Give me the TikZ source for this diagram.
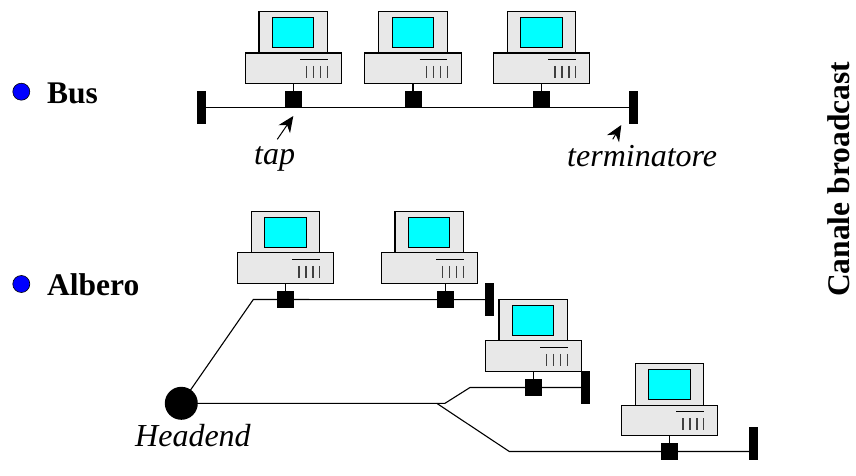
\documentclass[tikz,border=0pt]{standalone}
\usepackage{fontspec}
\setmainfont{Liberation Serif}
\usetikzlibrary{calc,arrows.meta}
\definecolor{pcgrey}{HTML}{E8E8E8}
\definecolor{pcscreen}{HTML}{00FFFF}
\definecolor{dotblue}{HTML}{0000FF}
\tikzset{
	wire/.style={line width=1.1pt,line join=miter},
	pcline/.style={line width=1.1pt,draw=black},
	pcbox/.style={rectangle,draw=black,line width=1.1pt,fill=pcgrey,inner sep=0pt,outer sep=0pt},
	tapbox/.style={rectangle,fill=black,inner sep=0pt,outer sep=0pt,minimum width=17pt,minimum height=17pt},
	termbar/.style={rectangle,fill=black,inner sep=0pt,outer sep=0pt,minimum width=9pt,minimum height=33pt},
	headend/.style={circle,fill=black,inner sep=0pt,outer sep=0pt,minimum size=33pt},
	bullet/.style={circle,draw=black,fill=dotblue,line width=0.6pt,inner sep=0pt,minimum size=17pt},
	boldlabel/.style={font=\fontsize{31.5}{34}\selectfont\bfseries,inner sep=0pt,anchor=base west},
	itlabel/.style={font=\fontsize{32}{34}\selectfont\itshape,inner sep=0pt,anchor=base west},
	pointer/.style={line width=1pt,-{Stealth[length=16pt,width=14pt,inset=5pt]}},
	pics/computer/.style={code={
		\node[pcbox,minimum width=68.6pt,minimum height=41.3pt] (-monitor) at (0,-51.15) {};
		\node[rectangle,draw=black,line width=1.1pt,fill=pcscreen,minimum width=41.2pt,minimum height=30.2pt,inner sep=0pt] (-screen) at (0,-50.9) {};
		\node[pcbox,minimum width=96.4pt,minimum height=30.5pt] (-base) at (0,-15.25) {};
		\draw[pcline] (6.7,-24.2)--(34.3,-24.2);
		\foreach \tick in {13.4,20.4,27.4,34.3}
			\draw[pcline,draw=black!75,line width=1.3pt] (\tick,-17.5)--(\tick,-5.8);
	}},
}
\begin{document}
\begin{tikzpicture}[x=1pt,y=-1pt]
	\useasboundingbox (0,0) rectangle (856,476);
	% bus
	\pic (pca) at (293.3,83.5) {computer};
	\pic (pcb) at (413,83.5) {computer};
	\pic (pcc) at (541.5,83.5) {computer};
	\node[tapbox] (tapa) at (293.3,99.5) {};
	\node[tapbox] (tapb) at (413,99.5) {};
	\node[tapbox] (tapc) at (541.5,99.5) {};
	\node[termbar] (terml) at (201.5,107.5) {};
	\node[termbar] (termr) at (633.5,107.5) {};
	\draw[wire] (terml)--(termr);
	\foreach \n in {a,b,c}
		\draw[wire] (pc\n-base.south)--(tap\n);
	\node[bullet] (busdot) at (21.3,91.7) {};
	\node[boldlabel] (buslabel) at (47,103) {Bus};
	\node[itlabel] (taplabel) at (254,164) {tap};
	\node[itlabel] (termlabel) at (567,166.5) {terminatore};
	\coordinate (tapfrom) at (277.3,139.3);
	\coordinate (tapto) at (293.3,116);
	\coordinate (termfrom) at (612.7,139.3);
	\coordinate (termto) at (621.3,125);
	\draw[pointer] (tapfrom)--(tapto);
	\draw[pointer] (termfrom)--(termto);
	% albero
	\pic (pcd) at (285.5,283.3) {computer};
	\pic (pce) at (429.3,283.3) {computer};
	\pic (pcf) at (533.3,371.3) {computer};
	\pic (pcg) at (669.5,435.7) {computer};
	\node[tapbox] (tapd) at (285.4,299.5) {};
	\node[tapbox] (tape) at (445.3,299.5) {};
	\node[tapbox] (tapf) at (533.3,387.5) {};
	\node[tapbox] (tapg) at (669.5,451.5) {};
	\node[termbar] (termd) at (489.5,299.7) {};
	\node[termbar] (termf) at (585.5,387.5) {};
	\node[termbar] (termg) at (753.5,443.5) {};
	\node[headend] (head) at (181.3,403.3) {};
	\coordinate (bendd) at (253.3,299.5);
	\coordinate (split) at (436.7,403.3);
	\coordinate (joinf) at (445,403.3);
	\coordinate (bendf) at (470,387.5);
	\coordinate (bendg) at (509.3,451.5);
	\draw[wire] (head.center)--(bendd)--(termd);
	\draw[wire] (head)--(joinf)--(bendf)--(termf);
	\draw[wire] (split)--(bendg)--(tapg.center)--(tapg-|termg);
	\foreach \n in {d,e,f,g}
		\draw[wire] (tap\n|-pc\n-base.south)--(tap\n);
	\node[bullet] (treedot) at (21.3,284) {};
	\node[boldlabel] (treelabel) at (47,295) {Albero};
	\node[itlabel] (headlabel) at (135,446.7) {Headend};
	% canale
	\node[boldlabel,rotate=90] (canale) at (849,297) {Canale broadcast};
\end{tikzpicture}
\end{document}
